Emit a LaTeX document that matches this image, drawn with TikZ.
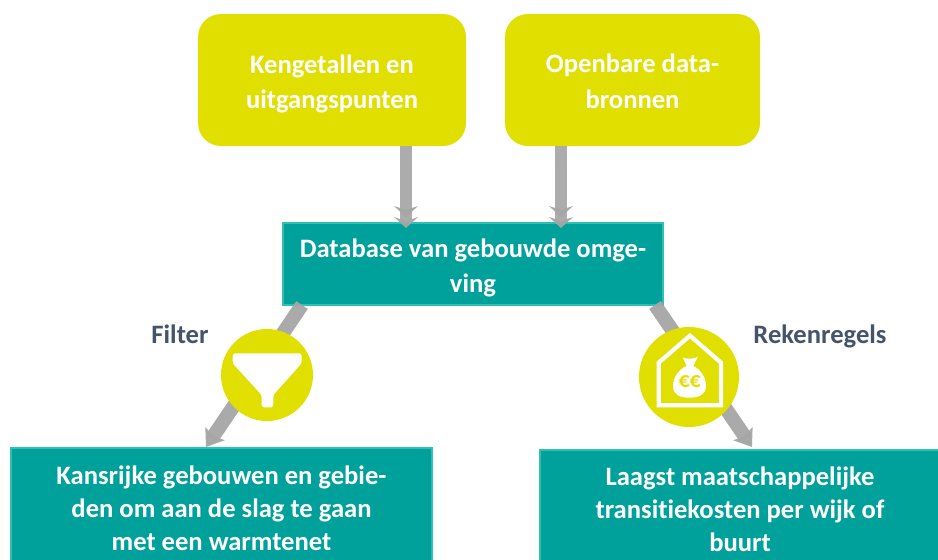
\documentclass[tikz,border=0pt]{standalone}
\usepackage{fontspec}
\setmainfont[Ligatures=NoCommon]{Carlito}
\usetikzlibrary{arrows.meta,calc}
\definecolor{lime}{HTML}{E0DF00}
\definecolor{tealbox}{HTML}{00A19A}
\definecolor{tealedge}{HTML}{2FBFB4}
\definecolor{flow}{HTML}{A6A6A6}
\definecolor{slate}{HTML}{44546A}
\newcommand{\topgap}[1]{\rule{0pt}{#1}}
\tikzset{
  x=1pt,y=-1pt,
  base/.style={align=center,inner sep=0pt,outer sep=0pt,font=\bfseries\fontsize{26.6}{35.5}\selectfont},
  limebox/.style={base,fill=lime,text=white,rounded corners=23pt},
  tealnode/.style={base,fill=tealbox,draw=tealedge,line width=1.6pt,text=white},
  disc/.style={circle,fill=lime,inner sep=0pt,outer sep=0pt},
  flowline/.style={draw=flow,line width=12pt,opacity=.92,-{Stealth[length=11pt,width=24pt,inset=4pt]Stealth[length=11pt,width=24pt,inset=4pt]}},
  difflow/.style={draw=flow,line width=14pt,opacity=.95,-{Stealth[length=16pt,width=23pt,inset=3pt]}},
  tag/.style={font=\bfseries\fontsize{26.6}{28}\selectfont,text=slate,inner sep=0pt,anchor=base},
}
\begin{document}
\begin{tikzpicture}
\useasboundingbox (0,0) rectangle (938,560);
\fill[white] (0,0) rectangle (938,560);
\node[limebox,minimum width=268pt,minimum height=132pt] (kengetallen) at (332,80) {\topgap{26pt}Kengetallen en\\uitgangspunten};
\node[limebox,minimum width=255pt,minimum height=132pt] (openbaar) at (632.5,80) {\topgap{26pt}Openbare data-\\bronnen\rule[-5.5pt]{0pt}{5.5pt}};
\node[tealnode,minimum width=380pt,minimum height=82pt] (database) at (473,264) {\topgap{26pt}Database van gebouwde omge-\\ving};
\node[tealnode,minimum width=421pt,minimum height=116pt,font=\bfseries\fontsize{26.6}{33}\selectfont] (kansrijk) at (221.5,506) {\topgap{24pt}Kansrijke gebouwen en gebie-\\den om aan de slag te gaan\\met een warmtenet};
\node[tealnode,minimum width=400pt,minimum height=114pt,font=\bfseries\fontsize{26.6}{33}\selectfont] (laagst) at (740,507) {\topgap{24pt}Laagst maatschappelijke\\transitiekosten per wijk of\\buurt};
\draw[flowline] (kengetallen.south -| 406,0) -- (406,228);
\draw[flowline] (openbaar.south -| 561,0) -- (561,228);
\coordinate (dl) at (302,305);
\coordinate (dr) at (655,305);
\coordinate (kl) at (206,447);
\coordinate (lr) at (752,447);
\draw[difflow] (dl) -- (kl);
\draw[difflow] (dr) -- (lr);
\node[disc,minimum size=92pt] (filterdisc) at (267,375) {};
\node[disc,minimum size=100pt] (costdisc) at (689,377) {};
\node[tag] (filterlabel) at (180,343) {Filter};
\node[tag] (reken) at (820,343) {Rekenregels};
\begin{scope}[shift={(190,300)},x=.3333pt,y=-.3333pt]
\fill[white,rounded corners=2.5pt] (128,160) -- (335,160) -- (335,190) -- (250,285) -- (250,322) -- (215,322) -- (215,285) -- (128,190) -- cycle;
\end{scope}
\begin{scope}[shift={(630,300)},x=.3333pt,y=-.3333pt]
\draw[white,line width=4.2pt,miter limit=10] (86,316) -- (86,188) -- (180,107) -- (273,188) -- (273,316) -- cycle;
\fill[white] (158,172) .. controls (170,178) and (190,178) .. (204,170) -- (190,198) .. controls (215,210) and (228,235) .. (228,258) .. controls (228,285) and (205,293) .. (178,293) .. controls (150,293) and (129,285) .. (129,258) .. controls (129,235) and (145,208) .. (170,198) -- cycle;
\node[text=lime,inner sep=0pt,font=\bfseries\fontsize{22}{22}\selectfont] at (179,246) {€€};
\end{scope}
\end{tikzpicture}
\end{document}
